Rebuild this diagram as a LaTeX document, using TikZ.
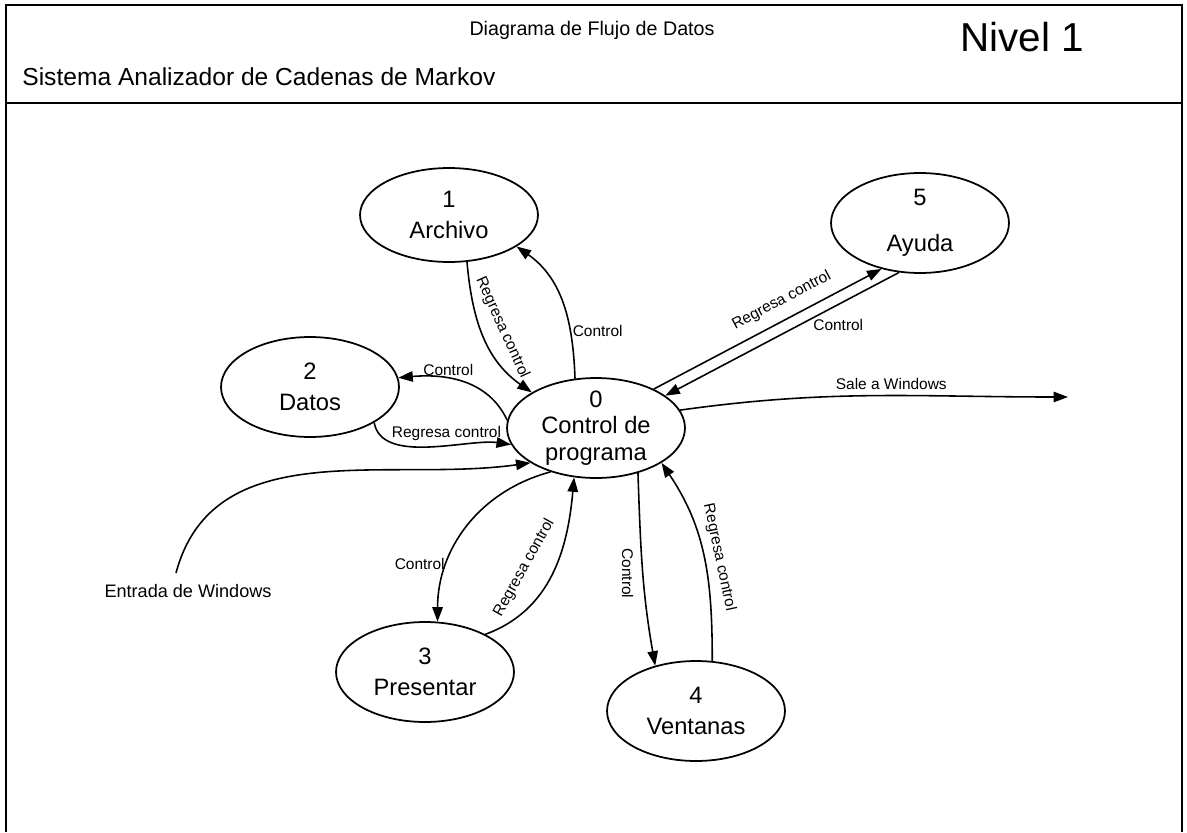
\documentclass[tikz,border=0pt]{standalone}
\usepackage{fontspec}
\setmainfont{Liberation Sans}
\usetikzlibrary{shapes.geometric,arrows.meta}

\begin{document}
\begin{tikzpicture}[x=0.02cm,y=-0.02cm]
  \tikzset{procstyle/.style={draw, ellipse, line width=1pt, minimum width=3.56cm, minimum height=2cm, inner sep=0pt, align=center, font=\fontsize{13.5}{17.5}\selectfont},
    flowstyle/.style={draw, line width=0.9pt, -{Triangle[length=2.9mm,width=2.1mm]}},
    tagstyle/.style={inner sep=1pt, font=\fontsize{8.8}{10}\selectfont}}
  % Frame and title block
  \useasboundingbox (0,0) rectangle (1187,832);
  \draw[line width=1.2pt] (6,832) -- (6,5) -- (1182,5) -- (1182,832);
  \draw[line width=1.2pt] (6,103) -- (1182,103);
  \node[inner sep=0pt, font=\fontsize{11.2}{13}\selectfont] (title) at (592,30) {Diagrama de Flujo de Datos};
  \node[inner sep=0pt, anchor=west, font=\fontsize{14}{16}\selectfont] (system) at (22,77) {Sistema Analizador de Cadenas de Markov};
  \node[inner sep=0pt, font=\fontsize{23}{26}\selectfont] (level) at (1022,37) {Nivel 1};
  % Processes
  \node[procstyle, inner ysep=-4pt, font=\fontsize{13.5}{15}\selectfont] (ctrl) at (596,428) {0\\Control de\\programa};
  \node[procstyle, minimum height=1.88cm] (archivo) at (449,215) {1\\Archivo};
  \node[procstyle] (datos) at (310,387) {2\\Datos};
  \node[procstyle] (presentar) at (425,672) {3\\Presentar};
  \node[procstyle] (ventanas) at (696,711) {4\\Ventanas};
  \node[procstyle] (ayuda) at (920,223) {5\\[9pt]Ayuda};
  % Outside world
  \node[inner sep=1pt, font=\fontsize{10.3}{12}\selectfont] (entrada) at (188,591) {Entrada de Windows};
  \coordinate (entry) at (176,573);
  \coordinate (exit) at (1068,397);
  % Flows
  \draw[flowstyle] (ctrl.113) to[out=92,in=-35] node[tagstyle, pos=0.3, right] {Control} (archivo.-25);
  \draw[flowstyle] (archivo.-69) to[out=-85,in=145] node[tagstyle, sloped, above=6pt, pos=0.5] {Regresa control} (ctrl.151);
  \draw[flowstyle] (ctrl.175) to[out=115,in=5] node[tagstyle, pos=0.62, above=0pt] {Control} (datos.6);
  \draw[flowstyle] (datos.-29) to[out=-80,in=172,looseness=0.8] node[tagstyle, pos=0.6, above=2pt] {Regresa control} (ctrl.191);
  \draw[flowstyle] (entry) to[out=75,in=188] (ctrl.208);
  \draw[flowstyle] (ctrl.224) to[out=195,in=90] node[tagstyle, pos=0.72, left] {Control} (presentar.76);
  \draw[flowstyle] (presentar.32) to[out=20,in=-95] node[tagstyle, sloped, above=10pt, pos=0.45] {Regresa control} (ctrl.246);
  \draw[flowstyle] (ctrl.-47) to[out=-88,in=100] node[tagstyle, rotate=-90, anchor=north, inner ysep=5pt, pos=0.52] {Control} (ventanas.132);
  \draw[flowstyle] (ventanas.72) to[out=90,in=-56] node[tagstyle, sloped, above=3pt, pos=0.48] {Regresa control} (ctrl.-28);
  \draw[flowstyle] (ctrl.34) -- node[tagstyle, sloped, above=5pt, pos=0.6] {Regresa control} (ayuda.230);
  \draw[flowstyle] (ayuda.247) -- node[tagstyle, below=7pt, pos=0.26] {Control} (ctrl.25);
  \draw[flowstyle] (ctrl.12) to[out=8,in=180] node[tagstyle, above=2pt, pos=0.55] {Sale a Windows} (exit);
\end{tikzpicture}
\end{document}
